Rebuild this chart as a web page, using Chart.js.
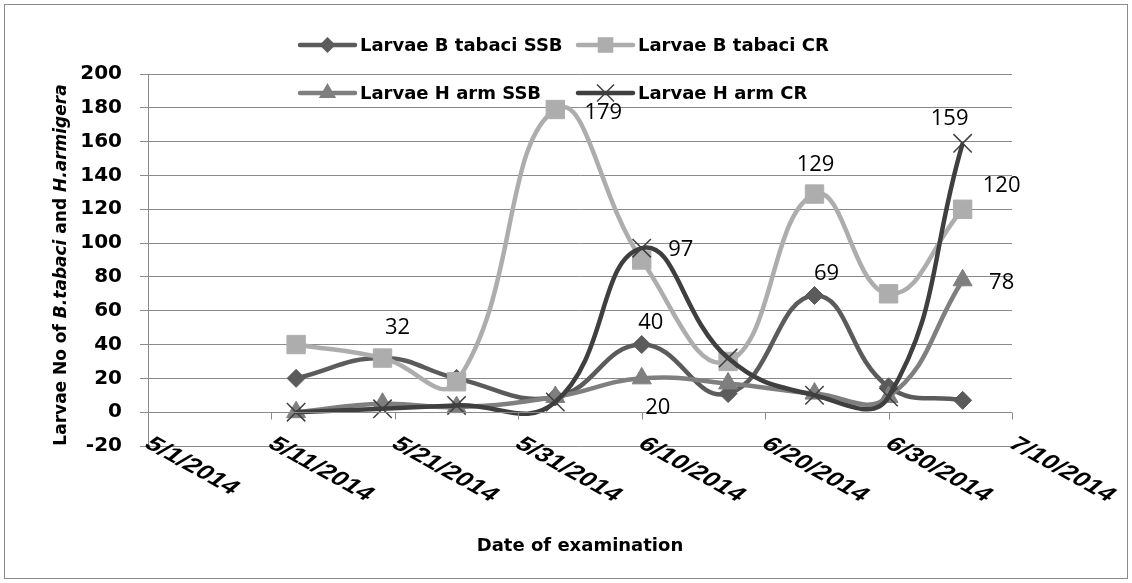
<!DOCTYPE html>
<html>
<head>
<meta charset="utf-8">
<script src="https://cdn.jsdelivr.net/npm/chart.js@4.4.1/dist/chart.umd.min.js"></script>
<style>
  html, body { margin: 0; padding: 0; background: #fff; }
  #chart { display: block; }
</style>
</head>
<body>
<canvas id="chart" width="1132" height="583"></canvas>
<script>
// examination dates and larvae counts
const examDates = ['2014-05-13', '2014-05-20', '2014-05-26', '2014-06-03', '2014-06-10',
                   '2014-06-17', '2014-06-24', '2014-06-30', '2014-07-06'];
const seriesNames = ['Larvae B tabaci SSB', 'Larvae B tabaci CR', 'Larvae H arm SSB', 'Larvae H arm CR'];
const tabaciSSB = [20, 32, 20, 9, 40, 11, 69, 15, 7];
const tabaciCR  = [40, 32, 18, 179, 90, 30, 129, 70, 120];
const harmSSB   = [0, 5, 3, 9, 20, 17, 11, 9, 78];
const harmCR    = [0, 2, 4, 6, 97, 32, 10, 9, 159];
const axisStartDate = '2014-05-01';
const axisEndDate = '2014-07-10';
const yMin = -20, yMax = 200, yStep = 20, xStepDays = 10;

const DAY = 86400000;
function toDays(s) {
  const p = s.split('-').map(Number);
  const q = axisStartDate.split('-').map(Number);
  return (Date.UTC(p[0], p[1] - 1, p[2]) - Date.UTC(q[0], q[1] - 1, q[2])) / DAY;
}
function dayLabel(d) {
  const q = axisStartDate.split('-').map(Number);
  const dt = new Date(Date.UTC(q[0], q[1] - 1, q[2]) + d * DAY);
  return (dt.getUTCMonth() + 1) + '/' + dt.getUTCDate() + '/' + dt.getUTCFullYear();
}
function points(vals) {
  return vals.map((v, i) => ({ x: toDays(examDates[i]), y: v }));
}

const styles = [
  { color: '#5b5b5b', point: 'rectRot', radius: 9, pbw: 1 },
  { color: '#adadad', point: 'rect', radius: 13, pbw: 1 },
  { color: '#7f7f7f', point: 'triangle', radius: 11, pbw: 1 },
  { color: '#3f3f3f', point: 'crossRot', radius: 13, pbw: 1.5 }
];
const seriesValues = [tabaciSSB, tabaciCR, harmSSB, harmCR];

// which values get a number printed next to them, and where
const valueLabels = [
  { ds: 0, i: 1, dx: 15, dy: -30 },
  { ds: 1, i: 3, dx: 48, dy: 3 },
  { ds: 3, i: 4, dx: 39, dy: 2 },
  { ds: 0, i: 4, dx: 9, dy: -22 },
  { ds: 2, i: 4, dx: 16, dy: 29 },
  { ds: 1, i: 6, dx: 1, dy: -29 },
  { ds: 0, i: 6, dx: 12, dy: -22 },
  { ds: 3, i: 8, dx: -13, dy: -25 },
  { ds: 1, i: 8, dx: 39, dy: -24 },
  { ds: 2, i: 8, dx: 39, dy: 2 }
];

const gridGray = '#8a8a8a';

function drawMarker(ctx, style, x, y, r) {
  ctx.save();
  ctx.fillStyle = style.color;
  ctx.strokeStyle = style.color;
  ctx.lineWidth = style.pbw;
  ctx.beginPath();
  if (style.point === 'rectRot') {
    ctx.moveTo(x, y - r); ctx.lineTo(x + r, y); ctx.lineTo(x, y + r); ctx.lineTo(x - r, y); ctx.closePath(); ctx.fill();
  } else if (style.point === 'rect') {
    const s = r * Math.SQRT1_2;
    ctx.rect(x - s, y - s, 2 * s, 2 * s); ctx.fill();
  } else if (style.point === 'triangle') {
    ctx.moveTo(x, y - r); ctx.lineTo(x + r * 0.866, y + r / 2); ctx.lineTo(x - r * 0.866, y + r / 2); ctx.closePath(); ctx.fill();
  } else {
    const s = r * Math.SQRT1_2;
    ctx.moveTo(x - s, y - s); ctx.lineTo(x + s, y + s); ctx.moveTo(x + s, y - s); ctx.lineTo(x - s, y + s); ctx.stroke();
  }
  ctx.restore();
}

const decorPlugin = {
  id: 'decor',
  beforeDraw(chart) {
    const ctx = chart.ctx;
    ctx.save();
    ctx.fillStyle = '#fff';
    ctx.fillRect(0, 0, chart.width, chart.height);
    ctx.strokeStyle = gridGray;
    ctx.lineWidth = 1;
    ctx.strokeRect(4.5, 4.5, chart.width - 9, chart.height - 9);
    ctx.restore();
  },
  afterDatasetsDraw(chart) {
    const ctx = chart.ctx;
    const xs = chart.scales.x, ys = chart.scales.y;
    const area = chart.chartArea;
    const y0 = Math.round(ys.getPixelForValue(0)) + 0.5;

    // horizontal axis sits at zero, tick marks hang below it
    ctx.save();
    ctx.strokeStyle = gridGray;
    ctx.lineWidth = 1;
    ctx.beginPath();
    ctx.moveTo(area.left, y0); ctx.lineTo(area.right, y0);
    xs.ticks.forEach(t => {
      const px = Math.round(xs.getPixelForValue(t.value)) + 0.5;
      ctx.moveTo(px, y0); ctx.lineTo(px, y0 + 7);
    });
    ctx.stroke();
    ctx.restore();

    // slanted date labels below the bottom gridline
    ctx.save();
    ctx.fillStyle = '#000';
    ctx.font = 'bold 20px "Liberation Sans", Arial, sans-serif';
    ctx.textAlign = 'left';
    ctx.textBaseline = 'top';
    xs.ticks.forEach(t => {
      const px = xs.getPixelForValue(t.value);
      ctx.save();
      ctx.translate(px + 9, area.bottom - 12);
      ctx.scale(1.45, 1);
      ctx.rotate(39 * Math.PI / 180);
      ctx.fillText(dayLabel(t.value), 0, 0);
      ctx.restore();
    });
    ctx.restore();

    // value labels
    ctx.save();
    ctx.fillStyle = '#000';
    ctx.font = '22px "Open Sans", sans-serif';
    ctx.textAlign = 'center';
    ctx.textBaseline = 'middle';
    valueLabels.forEach(l => {
      const el = chart.getDatasetMeta(l.ds).data[l.i];
      ctx.fillText(String(seriesValues[l.ds][l.i]), el.x + l.dx, el.y + l.dy);
    });
    ctx.restore();

    // axis titles
    ctx.save();
    ctx.fillStyle = '#000';
    ctx.textBaseline = 'middle';
    ctx.textAlign = 'center';
    ctx.font = 'bold 18px "DejaVu Sans", sans-serif';
    ctx.fillText('Date of examination', (area.left + area.right) / 2, 546);

    const parts = [
      ['Larvae No of ', false], ['B.tabaci', true], [' and ', false], ['H.armigera', true]
    ];
    const fontFor = it => (it ? 'italic ' : '') + 'bold 17px "DejaVu Sans", sans-serif';
    let total = 0;
    parts.forEach(p => { ctx.font = fontFor(p[1]); total += ctx.measureText(p[0]).width; });
    ctx.translate(62, (area.top + area.bottom) / 2 + 5);
    ctx.rotate(-Math.PI / 2);
    ctx.textAlign = 'left';
    let cx = -total / 2;
    parts.forEach(p => {
      ctx.font = fontFor(p[1]);
      ctx.fillText(p[0], cx, 0);
      cx += ctx.measureText(p[0]).width;
    });
    ctx.restore();

    // legend, two rows over the top of the plot
    ctx.save();
    ctx.font = 'bold 18px "DejaVu Sans", sans-serif';
    ctx.textAlign = 'left';
    ctx.textBaseline = 'middle';
    ctx.fillStyle = '#000';
    const legendPos = [[300, 45], [578, 45], [300, 93], [578, 93]];
    const legendRadius = [8, 11, 10, 12];
    seriesNames.forEach((name, k) => {
      const st = styles[k];
      const [lx, ly] = legendPos[k];
      ctx.save();
      ctx.strokeStyle = st.color;
      ctx.lineWidth = 4.5;
      ctx.lineCap = 'round';
      ctx.beginPath();
      ctx.moveTo(lx, ly); ctx.lineTo(lx + 55, ly);
      ctx.stroke();
      ctx.restore();
      drawMarker(ctx, st, lx + 27.5, ly, legendRadius[k]);
      ctx.fillText(name, lx + 60, ly + 1);
    });
    ctx.restore();
  }
};

const datasets = seriesValues.map((vals, k) => ({
  label: seriesNames[k],
  data: points(vals),
  borderColor: styles[k].color,
  backgroundColor: styles[k].color,
  borderWidth: 4.5,
  pointStyle: styles[k].point,
  pointRadius: styles[k].radius,
  pointHoverRadius: styles[k].radius,
  pointBorderWidth: styles[k].pbw,
  pointBorderColor: styles[k].color,
  pointBackgroundColor: styles[k].color,
  tension: 0.45,
  fill: false,
  order: 4 - k
}));

new Chart(document.getElementById('chart').getContext('2d'), {
  type: 'line',
  data: { datasets: datasets },
  options: {
    responsive: false,
    animation: false,
    devicePixelRatio: 1,
    layout: { padding: { top: 74, right: 120, left: 0, bottom: 0 }, autoPadding: false },
    plugins: {
      legend: { display: false },
      title: { display: false },
      tooltip: { enabled: false }
    },
    scales: {
      x: {
        type: 'linear',
        position: 'bottom',
        min: toDays(axisStartDate),
        max: toDays(axisEndDate),
        ticks: { display: false, stepSize: xStepDays },
        grid: { display: false },
        border: { display: false },
        afterFit(scale) { scale.height = 137; }
      },
      y: {
        min: yMin,
        max: yMax,
        ticks: {
          stepSize: yStep,
          color: '#000',
          padding: 18,
          font: { family: '"DejaVu Sans", sans-serif', size: 20, weight: 'bold' }
        },
        grid: { color: gridGray, lineWidth: 1, tickLength: 8, drawTicks: true },
        border: { display: true, color: gridGray, width: 1 },
        afterFit(scale) { scale.width = 148; }
      }
    }
  },
  plugins: [decorPlugin]
});
</script>
</body>
</html>
